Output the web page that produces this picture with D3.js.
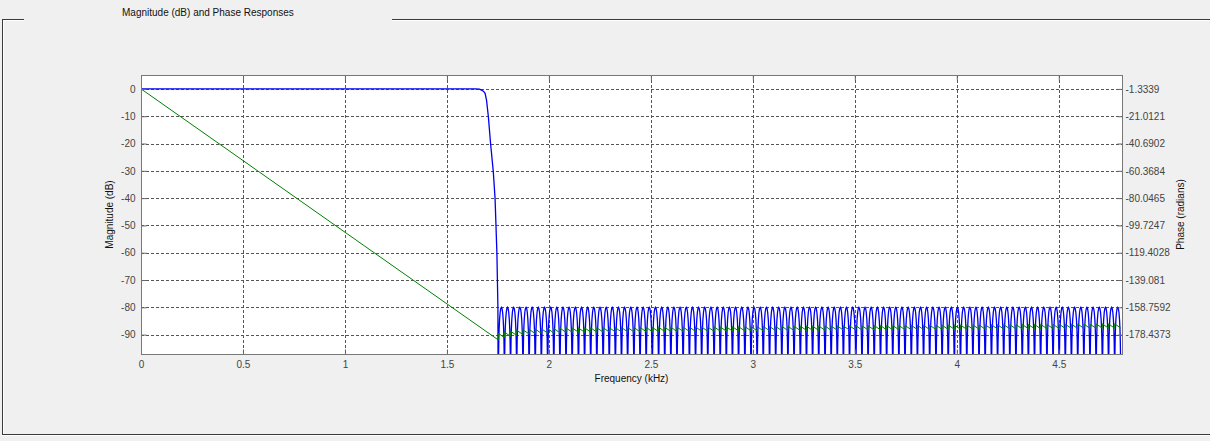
<!DOCTYPE html>
<html><head><meta charset="utf-8">
<script src="https://cdn.jsdelivr.net/npm/d3@7"></script>
<style>
html,body{margin:0;padding:0;background:#f0f0f0;}
svg{display:block;font-family:"Liberation Sans",Arial,sans-serif;}
</style></head><body>
<svg id="chart" width="1210" height="441"></svg>
<script>
// ---------- data ----------
const titleText = "Magnitude (dB) and Phase Responses";
const xLabel = "Frequency (kHz)";
const yLabelLeft = "Magnitude (dB)";
const yLabelRight = "Phase (radians)";

const freqDomain = [0, 4.81];
const magDomain = [-97.1, 5.1];
const phaseDomain = [-192.41, 8.70];

const freqTicks = [0, 0.5, 1, 1.5, 2, 2.5, 3, 3.5, 4, 4.5];
const freqTickLabels = ["0", "0.5", "1", "1.5", "2", "2.5", "3", "3.5", "4", "4.5"];
const magTicks = [0, -10, -20, -30, -40, -50, -60, -70, -80, -90];
const magTickLabels = ["0", "-10", "-20", "-30", "-40", "-50", "-60", "-70", "-80", "-90"];
const phaseTicks = [-1.3339, -21.0121, -40.6902, -60.3684, -80.0465, -99.7247, -119.4028, -139.081, -158.7592, -178.4373];
const phaseTickLabels = ["-1.3339", "-21.0121", "-40.6902", "-60.3684", "-80.0465", "-99.7247", "-119.4028", "-139.081", "-158.7592", "-178.4373"];

// passband + transition band magnitude (kHz, dB)
const passFreq = [0, 1.640, 1.660, 1.672, 1.681, 1.687, 1.694, 1.703, 1.714, 1.727, 1.736, 1.745, 1.750];
const passMag  = [0, 0, -0.1, -0.5, -1.0, -1.6, -4, -10, -20, -30, -40, -60, -80];

// stopband zeros (kHz) and equiripple peak level (dB)
const stopNulls = [1.752, 1.782, 1.812, 1.842, 1.873, 1.903, 1.933, 1.963, 1.994, 2.024,
  2.054, 2.084, 2.114, 2.145, 2.175, 2.205, 2.235, 2.266, 2.296, 2.326,
  2.356, 2.386, 2.417, 2.447, 2.477, 2.507, 2.538, 2.568, 2.598, 2.628,
  2.658, 2.689, 2.719, 2.749, 2.779, 2.810, 2.840, 2.870, 2.900, 2.930,
  2.961, 2.991, 3.021, 3.051, 3.082, 3.112, 3.142, 3.172, 3.202, 3.233,
  3.263, 3.293, 3.323, 3.354, 3.384, 3.414, 3.444, 3.474, 3.505, 3.535,
  3.565, 3.595, 3.626, 3.656, 3.686, 3.716, 3.746, 3.777, 3.807, 3.837,
  3.867, 3.898, 3.928, 3.958, 3.988, 4.018, 4.049, 4.079, 4.109, 4.139,
  4.170, 4.200, 4.230, 4.260, 4.290, 4.321, 4.351, 4.381, 4.411, 4.442,
  4.472, 4.502, 4.532, 4.562, 4.593, 4.623, 4.653, 4.683, 4.714, 4.744,
  4.774, 4.804];
const stopPeakDb = -80;
// shape of one stopband lobe: relative position in lobe, dB below peak
const lobeT  = [0, 0.004, 0.015, 0.04, 0.08, 0.13, 0.2, 0.3, 0.4, 0.5, 0.6, 0.7, 0.8, 0.87, 0.92, 0.96, 0.985, 0.996];
const lobeDb = [-70, -38, -26.6, -18, -12.1, -8.0, -4.6, -1.8, -0.4, 0, -0.4, -1.8, -4.6, -8.0, -12.1, -18, -26.6, -38];

// phase: linear part (kHz, rad)
const phaseLinFreq = [0, 1.752];
const phaseLin = [-1.3, -182.3];
// phase: stopband sawtooth, value just after each zero (rad); drops by pi across each lobe
const stopPhaseTop = [-177.5, -176.6, -175.9, -175.3, -174.9, -174.6, -174.4, -174.2, -174.1, -174.0,
  -173.7, -173.6, -173.6, -173.6, -173.5, -173.5, -173.5, -173.4, -173.4, -173.4,
  -173.3, -173.3, -173.3, -173.2, -173.2, -173.2, -173.1, -173.1, -173.1, -173.0,
  -173.0, -173.0, -172.9, -172.9, -172.9, -172.8, -172.8, -172.8, -172.7, -172.7,
  -172.6, -172.6, -172.6, -172.5, -172.5, -172.5, -172.4, -172.4, -172.4, -172.3,
  -172.3, -172.3, -172.2, -172.2, -172.2, -172.1, -172.1, -172.1, -172.0, -172.0,
  -172.0, -171.9, -171.9, -171.9, -171.8, -171.8, -171.8, -171.7, -171.7, -171.7,
  -171.6, -171.6, -171.6, -171.5, -171.5, -171.5, -171.4, -171.4, -171.4, -171.3,
  -171.3, -171.3, -171.2, -171.2, -171.2, -171.1, -171.1, -171.1, -171.0, -171.0,
  -171.0, -170.9, -170.9, -170.9, -170.8, -170.8, -170.8, -170.7, -170.7, -170.7,
  -170.6];

// ---------- layout ----------
const P = {left: 141, right: 1122, top: 75, bottom: 354};
const svg = d3.select("#chart");
const x = d3.scaleLinear().domain(freqDomain).range([P.left, P.right]);
const y = d3.scaleLinear().domain(magDomain).range([P.bottom, P.top]);
const yP = d3.scaleLinear().domain(phaseDomain).range([P.bottom, P.top]);
const crisp = v => Math.round(v) + 0.5;

// frame (etched group box)
const frame = svg.append("g");
const fc = "#3a3a3a";
[[2, 19.5, 24, 19.5], [392, 19.5, 1210, 19.5], [2.5, 19, 2.5, 434], [2, 434.5, 1210, 434.5]].forEach(l => {
  frame.append("line").attr("x1", l[0]).attr("y1", l[1]).attr("x2", l[2]).attr("y2", l[3])
    .attr("stroke", fc).attr("stroke-width", 1);
});
[[3, 20.5, 24, 20.5], [392, 20.5, 1210, 20.5], [3.5, 20, 3.5, 434], [2, 435.5, 1210, 435.5]].forEach(l => {
  frame.append("line").attr("x1", l[0]).attr("y1", l[1]).attr("x2", l[2]).attr("y2", l[3])
    .attr("stroke", "#ffffff").attr("stroke-width", 1);
});
svg.append("text").attr("x", 122).attr("y", 16).attr("font-size", 10).attr("fill", "#111")
  .text(titleText);

// plot background
svg.append("rect").attr("x", P.left).attr("y", P.top)
  .attr("width", P.right - P.left).attr("height", P.bottom - P.top).attr("fill", "#ffffff");

// grid
const grid = svg.append("g").attr("stroke", "#555").attr("stroke-width", 1).attr("stroke-dasharray", "3,2");
freqTicks.filter(d => d > 0).forEach(d => {
  grid.append("line").attr("x1", crisp(x(d))).attr("x2", crisp(x(d))).attr("y1", P.top).attr("y2", P.bottom);
});
magTicks.forEach(d => {
  grid.append("line").attr("y1", crisp(y(d))).attr("y2", crisp(y(d))).attr("x1", P.left).attr("x2", P.right);
});

// clip
svg.append("defs").append("clipPath").attr("id", "clip").append("rect")
  .attr("x", P.left).attr("y", P.top).attr("width", P.right - P.left).attr("height", P.bottom - P.top);

// magnitude series
const magPts = passFreq.map((f, i) => [f, passMag[i]]);
for (let i = 0; i < stopNulls.length - 1; i++) {
  const f0 = stopNulls[i], f1 = stopNulls[i + 1];
  lobeT.forEach((t, k) => magPts.push([f0 + t * (f1 - f0), stopPeakDb + lobeDb[k]]));
}
magPts.push([stopNulls[stopNulls.length - 1], stopPeakDb + lobeDb[0]]);
const magLine = d3.line().x(d => x(d[0])).y(d => y(d[1]));
svg.append("path").attr("clip-path", "url(#clip)").attr("d", magLine(magPts))
  .attr("fill", "none").attr("stroke", "#0000f0").attr("stroke-width", 1.3);

// phase series
const phPts = phaseLinFreq.map((f, i) => [f, phaseLin[i]]);
for (let i = 0; i < stopNulls.length - 1; i++) {
  phPts.push([stopNulls[i], stopPhaseTop[i]]);
  phPts.push([stopNulls[i + 1], stopPhaseTop[i] - Math.PI]);
}
const phLine = d3.line().x(d => x(d[0])).y(d => yP(d[1]));
svg.append("path").attr("clip-path", "url(#clip)").attr("d", phLine(phPts))
  .attr("fill", "none").attr("stroke", "#008000").attr("stroke-width", 1);

// axes
const axCol = "#444";
function styleAxis(g) {
  g.select(".domain").remove();
  g.selectAll("line").attr("stroke", "#666");
  g.selectAll("text").attr("fill", axCol).attr("font-size", 10)
    .attr("font-family", '"Liberation Sans", Arial, sans-serif');
}
svg.append("g").attr("transform", `translate(${P.left + 0.5},0)`)
  .call(d3.axisLeft(y).tickValues(magTicks).tickFormat((d, i) => magTickLabels[i]).tickSize(-5).tickPadding(6))
  .call(styleAxis);
svg.append("g").attr("transform", `translate(${P.right + 0.5},0)`)
  .call(d3.axisRight(yP).tickValues(phaseTicks).tickFormat((d, i) => phaseTickLabels[i]).tickSize(-5).tickPadding(3))
  .call(styleAxis);
svg.append("g").attr("transform", `translate(0,${P.bottom + 0.5})`)
  .call(d3.axisBottom(x).tickValues(freqTicks).tickFormat((d, i) => freqTickLabels[i]).tickSize(-5).tickPadding(6))
  .call(styleAxis);
svg.append("g").attr("transform", `translate(0,${P.top + 0.5})`)
  .call(d3.axisTop(x).tickValues(freqTicks).tickFormat("").tickSize(-5))
  .call(styleAxis);

// box
svg.append("rect").attr("x", P.left + 0.5).attr("y", P.top + 0.5)
  .attr("width", P.right - P.left).attr("height", P.bottom - P.top)
  .attr("fill", "none").attr("stroke", "#777").attr("stroke-width", 1);

// axis labels
svg.append("text").attr("x", (P.left + P.right) / 2).attr("y", 382).attr("text-anchor", "middle")
  .attr("font-size", 10).attr("fill", "#111").text(xLabel);
svg.append("text").attr("transform", `translate(113,${(P.top + P.bottom) / 2}) rotate(-90)`)
  .attr("text-anchor", "middle").attr("font-size", 10).attr("fill", "#111").text(yLabelLeft);
svg.append("text").attr("transform", `translate(1184,${(P.top + P.bottom) / 2}) rotate(-90)`)
  .attr("text-anchor", "middle").attr("font-size", 10).attr("fill", "#111").text(yLabelRight);
</script></body></html>
